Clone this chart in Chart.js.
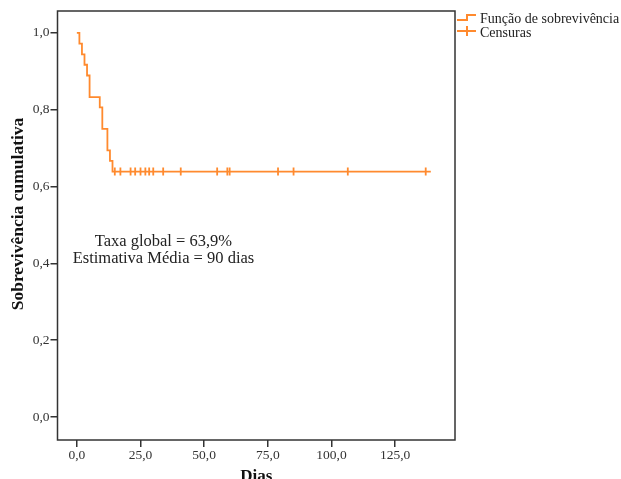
<!DOCTYPE html>
<html>
<head>
<meta charset="utf-8">
<script src="https://cdn.jsdelivr.net/npm/chart.js@4/dist/chart.umd.min.js"></script>
<style>
  body { margin: 0; background: #fff; }
  #wrap { width: 621px; height: 479px; }
</style>
</head>
<body>
<div id="wrap"><canvas id="km"></canvas></div>
<script>
// Kaplan-Meier curve (days, cumulative survival)
const eventDays = [0, 1, 2, 3, 4, 5, 9, 10, 12, 13, 14, 139];
const survival = [1.0, 0.972, 0.944, 0.917, 0.889, 0.833, 0.806, 0.750, 0.694, 0.667, 0.639, 0.639];

// censored observations
const censorDays = [14.9, 17.1, 21.1, 22.9, 25.0, 26.9, 28.4, 30.0, 33.9, 40.8, 55.1, 59.1, 60.0, 79.0, 85.1, 106.4, 137.0];
const censorSurvival = [0.639, 0.639, 0.639, 0.639, 0.639, 0.639, 0.639, 0.639, 0.639, 0.639, 0.639, 0.639, 0.639, 0.639, 0.639, 0.639, 0.639];

// tick labels
const xTicks = [0, 25, 50, 75, 100, 125];
const yTicks = [0, 0.2, 0.4, 0.6, 0.8, 1.0];

const legendLabels = ['Função de sobrevivência', 'Censuras'];
const noteLines = ['Taxa global = 63,9%', 'Estimativa Média = 90 dias'];
const yTitle = 'Sobrevivência cumulativa';

const orange = '#ff8a2e';
const axisColor = '#333333';
const serif = "'Liberation Serif', 'Times New Roman', serif";

const comma = v => Number(v).toFixed(1).replace('.', ',');

// frame, legend, y title and note text
const extras = {
  id: 'extras',
  afterDraw(chart) {
    const ctx = chart.ctx;
    const a = chart.chartArea;
    const xs = chart.scales.x, ys = chart.scales.y;
    ctx.save();
    ctx.strokeStyle = axisColor;
    ctx.lineWidth = 1.5;
    ctx.strokeRect(a.left, a.top, a.right - a.left, a.bottom - a.top);

    // legend icons
    ctx.strokeStyle = orange;
    ctx.lineWidth = 2;
    ctx.beginPath();
    ctx.moveTo(457, 20); ctx.lineTo(467, 20); ctx.lineTo(467, 15); ctx.lineTo(476, 15);
    ctx.moveTo(457, 31); ctx.lineTo(476, 31);
    ctx.moveTo(467, 26); ctx.lineTo(467, 36);
    ctx.stroke();

    ctx.fillStyle = '#222';
    ctx.font = '14px ' + serif;
    ctx.textAlign = 'left';
    ctx.textBaseline = 'alphabetic';
    ctx.fillText(legendLabels[0], 480, 23);
    ctx.fillText(legendLabels[1], 480, 37);

    // note
    ctx.font = '16.5px ' + serif;
    ctx.textAlign = 'center';
    ctx.textBaseline = 'middle';
    const nx = xs.getPixelForValue(34);
    ctx.fillText(noteLines[0], nx, ys.getPixelForValue(0.456));
    ctx.fillText(noteLines[1], nx, ys.getPixelForValue(0.411));

    // y axis title
    ctx.fillStyle = '#111';
    ctx.font = 'bold 17.5px ' + serif;
    ctx.translate(18, 214);
    ctx.rotate(-Math.PI / 2);
    ctx.fillText(yTitle, 0, 0);
    ctx.restore();
  }
};

new Chart(document.getElementById('km'), {
  type: 'scatter',
  data: {
    datasets: [
      {
        label: legendLabels[0],
        data: eventDays.map((d, i) => ({ x: d, y: survival[i] })),
        showLine: true,
        stepped: true,
        borderColor: orange,
        borderWidth: 1.8,
        pointRadius: 0,
        fill: false
      },
      {
        label: legendLabels[1],
        data: censorDays.map((d, i) => ({ x: d, y: censorSurvival[i] })),
        showLine: false,
        pointStyle: 'line',
        rotation: 90,
        pointRadius: 4,
        borderColor: orange,
        borderWidth: 1.8
      }
    ]
  },
  options: {
    responsive: true,
    maintainAspectRatio: false,
    animation: false,
    layout: { padding: { left: 0, top: 11, right: 166, bottom: 0 } },
    plugins: { legend: { display: false }, tooltip: { enabled: false } },
    scales: {
      x: {
        type: 'linear',
        min: -7.6,
        max: 148.5,
        afterBuildTicks: s => { s.ticks = xTicks.map(v => ({ value: v })); },
        afterFit: s => { s.height = 39; },
        ticks: {
          callback: v => comma(v),
          font: { family: serif, size: 13.5 },
          color: axisColor,
          padding: 0,
          maxRotation: 0
        },
        grid: { drawOnChartArea: false, tickLength: 7, color: axisColor, lineWidth: 1.5 },
        border: { display: false },
        title: {
          display: true,
          text: 'Dias',
          font: { family: serif, size: 17, weight: 'bold' },
          color: '#111',
          padding: { top: 0, bottom: -8 }
        }
      },
      y: {
        min: -0.06,
        max: 1.057,
        afterBuildTicks: s => { s.ticks = yTicks.map(v => ({ value: v })); },
        afterFit: s => { s.width = 57.5; },
        ticks: {
          callback: v => comma(v),
          font: { family: serif, size: 13.5 },
          color: axisColor,
          padding: 1
        },
        grid: { drawOnChartArea: false, tickLength: 7, color: axisColor, lineWidth: 1.5 },
        border: { display: false }
      }
    }
  },
  plugins: [extras]
});
</script>
</body>
</html>
